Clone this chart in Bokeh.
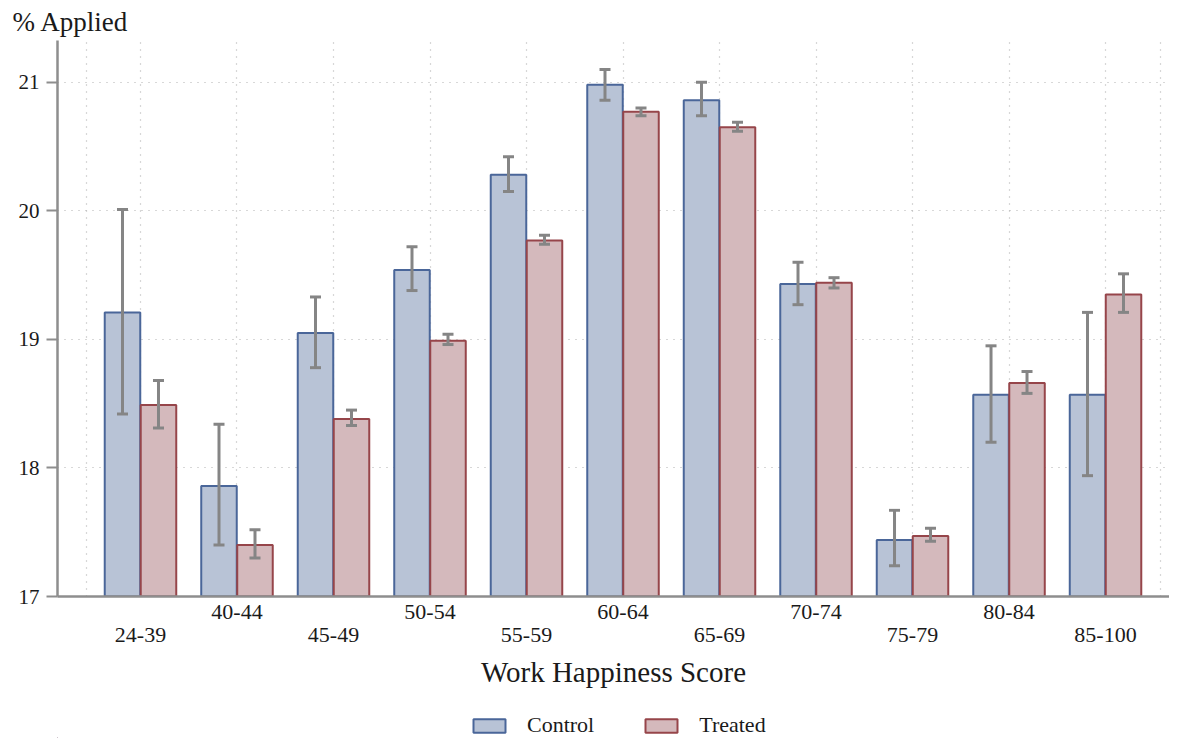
from bokeh.plotting import figure
from bokeh.layouts import column
from bokeh.models import (Range1d, FixedTicker, Whisker, ColumnDataSource, TeeHead,
                          Legend, Title, LinearAxis)
from bokeh.embed import file_html
from bokeh.resources import INLINE

# ---- data ----
categories = ["24-39", "40-44", "45-49", "50-54", "55-59", "60-64",
              "65-69", "70-74", "75-79", "80-84", "85-100"]
control = [19.21, 17.86, 19.05, 19.54, 20.28, 20.98, 20.86, 19.43, 17.44, 18.57, 18.57]
control_lo = [18.42, 17.40, 18.78, 19.38, 20.15, 20.86, 20.74, 19.27, 17.24, 18.20, 17.94]
control_hi = [20.01, 18.34, 19.33, 19.72, 20.42, 21.10, 21.00, 19.60, 17.67, 18.95, 19.21]
treated = [18.49, 17.40, 18.38, 18.99, 19.77, 20.77, 20.65, 19.44, 17.47, 18.66, 19.35]
treated_lo = [18.31, 17.30, 18.33, 18.96, 19.74, 20.74, 20.62, 19.40, 17.43, 18.58, 19.21]
treated_hi = [18.68, 17.52, 18.45, 19.04, 19.81, 20.80, 20.69, 19.48, 17.53, 18.75, 19.51]
y_ticks = [17, 18, 19, 20, 21]
series_names = ["Control", "Treated"]

# ---- styling ----
FONT = "Liberation Serif"
TXT = "#1a1a1a"
AXC = "#8e8e8e"
GRIDC = "#b0b0b0"
C_FILL, C_LINE = "#b8c3d6", "#4a6699"
T_FILL, T_LINE = "#d4b9bc", "#96454a"
ERR = "#858585"

n = len(categories)
idx = list(range(n))
off = 0.1865
bw = 0.368

src_c = ColumnDataSource(dict(x=[i - off for i in idx], top=control, lo=control_lo, hi=control_hi))
src_t = ColumnDataSource(dict(x=[i + off for i in idx], top=treated, lo=treated_lo, hi=treated_hi))

W = 1169
H1 = 710
LEFT = 57
p = figure(width=W, height=H1, output_backend="svg", toolbar_location=None,
           x_range=Range1d(-0.860, 10.663), y_range=Range1d(17, 21.325),
           min_border_left=LEFT, min_border_right=0, min_border_top=40,
           min_border_bottom=H1 - 596)
p.outline_line_color = None
p.background_fill_color = "white"
p.border_fill_color = "white"

p.title = Title(text="% Applied", align="left", offset=-45, text_font=FONT,
                text_font_size="27px", text_font_style="normal", text_color=TXT, standoff=8)

rc = p.vbar(x="x", top="top", bottom=17, width=bw, source=src_c,
            fill_color=C_FILL, line_color=C_LINE, line_width=2)
rt = p.vbar(x="x", top="top", bottom=17, width=bw, source=src_t,
            fill_color=T_FILL, line_color=T_LINE, line_width=2)

for s in (src_c, src_t):
    w = Whisker(source=s, base="x", lower="lo", upper="hi", line_color=ERR, line_width=3,
                level="overlay",
                upper_head=TeeHead(size=11, line_color=ERR, line_width=3),
                lower_head=TeeHead(size=11, line_color=ERR, line_width=3))
    p.add_layout(w)

# grids
p.xgrid.ticker = FixedTicker(ticks=[-0.56] + idx + [10.57])
p.ygrid.ticker = FixedTicker(ticks=y_ticks)
for g in (p.xgrid, p.ygrid):
    g.grid_line_color = GRIDC
    g.grid_line_dash = "1 6"
    g.grid_line_width = 1.2

# y axis
ya = p.yaxis[0]
ya.ticker = FixedTicker(ticks=y_ticks)
ya.axis_line_color = AXC
ya.axis_line_width = 2.5
ya.major_tick_line_color = AXC
ya.major_tick_line_width = 2
ya.major_tick_out = 11
ya.major_tick_in = 0
ya.minor_tick_line_color = None
ya.major_label_standoff = 7
ya.major_label_text_font = FONT
ya.major_label_text_font_size = "21px"
ya.major_label_text_color = TXT

upper = [i for i in idx if i % 2 == 1]
lower = [i for i in idx if i % 2 == 0]


def style_x(ax, ticks, standoff):
    ax.ticker = FixedTicker(ticks=ticks)
    ax.major_label_overrides = {i: categories[i] for i in ticks}
    ax.major_tick_line_color = None
    ax.major_tick_out = 0
    ax.major_tick_in = 0
    ax.minor_tick_line_color = None
    ax.minor_tick_out = 0
    ax.minor_tick_in = 0
    ax.major_label_standoff = standoff
    ax.major_label_text_font = FONT
    ax.major_label_text_font_size = "22px"
    ax.major_label_text_color = TXT


# x axis: upper staggered labels
xa = p.xaxis[0]
style_x(xa, upper, 8)
xa.axis_line_color = AXC
xa.axis_line_width = 2.5

# second x axis: lower staggered labels + title
xb = LinearAxis()
style_x(xb, lower, 6)
xb.axis_line_color = None
xb.axis_label = "Work Happiness Score"
xb.axis_label_text_font = FONT
xb.axis_label_text_font_size = "29px"
xb.axis_label_text_font_style = "normal"
xb.axis_label_text_color = TXT
xb.axis_label_standoff = 11
p.add_layout(xb, "below")

# legend strip
H2 = 738 - H1
q = figure(width=W, height=H2, output_backend="svg", toolbar_location=None,
           x_range=Range1d(0, 1), y_range=Range1d(0, 1),
           min_border_left=LEFT, min_border_right=0, min_border_top=0, min_border_bottom=0,
           x_axis_location=None, y_axis_location=None)
q.outline_line_color = None
q.xgrid.visible = False
q.ygrid.visible = False
q.background_fill_color = "white"
q.border_fill_color = "white"
# legend-only renderers, placed outside the visible range
qc = q.vbar(x=[-5], top=[-5], bottom=[-6], width=0.1, fill_color=C_FILL, line_color=C_LINE, line_width=2)
qt = q.vbar(x=[-5], top=[-5], bottom=[-6], width=0.1, fill_color=T_FILL, line_color=T_LINE, line_width=2)
legend = Legend(items=[(series_names[0], [qc]), (series_names[1], [qt])],
                orientation="horizontal", location=(412, 0),
                glyph_width=40, glyph_height=17, label_standoff=18, spacing=47,
                label_text_font=FONT, label_text_font_size="22px", label_text_color=TXT,
                border_line_color=None, background_fill_alpha=0, padding=0, margin=0)
q.add_layout(legend)

layout = column(p, q, spacing=0)
open("out.html", "w").write(file_html(layout, INLINE))
